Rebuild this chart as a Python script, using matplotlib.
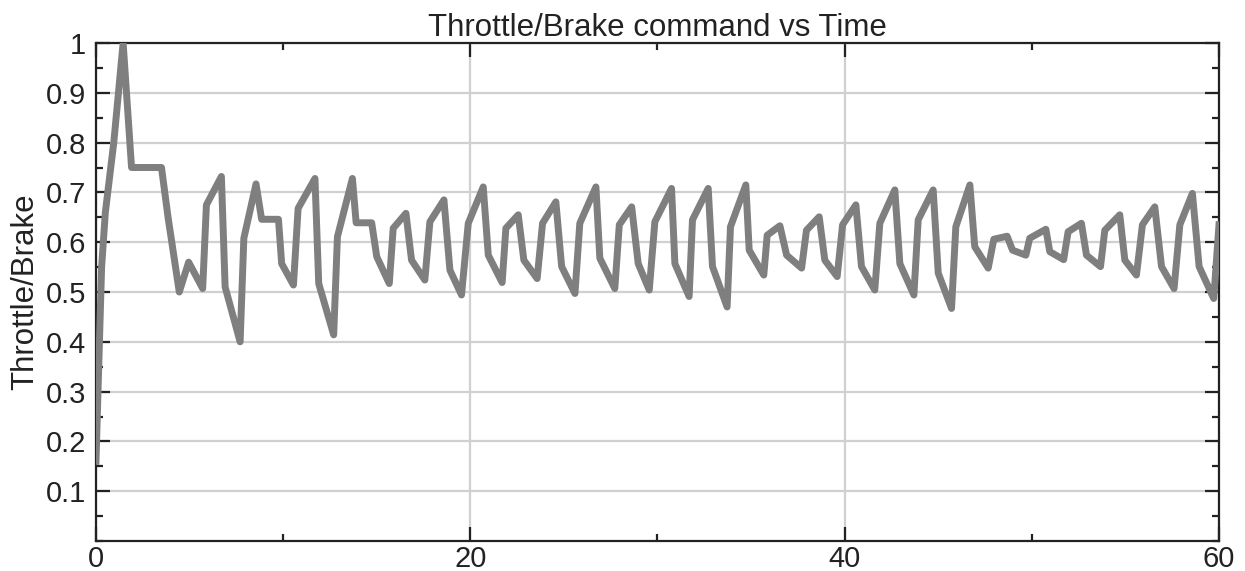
import matplotlib
matplotlib.use("Agg")
import matplotlib.pyplot as plt
from matplotlib.ticker import MultipleLocator

time = [0.0, 0.3, 0.5, 0.95, 1.45, 1.9, 3.5, 3.85, 4.45, 4.95, 5.7, 5.9, 6.7, 6.9,
        7.7, 7.9, 8.55, 8.85, 9.75, 9.92, 10.55, 10.8, 11.7, 11.9, 12.7, 12.9,
        13.7, 13.9, 14.73, 15.0, 15.67, 15.88, 16.56, 16.86, 17.57, 17.84, 18.59,
        18.91, 19.53, 19.89, 20.69, 20.96, 21.7, 21.9, 22.56, 22.86, 23.57, 23.86,
        24.57, 24.88, 25.59, 25.85, 26.71, 26.92, 27.72, 27.96, 28.62, 28.97,
        29.56, 29.86, 30.75, 30.93, 31.69, 31.87, 32.71, 32.94, 33.72, 33.9,
        34.72, 34.9, 35.68, 35.86, 36.54, 36.9, 37.7, 37.96, 38.64, 38.94, 39.6,
        39.89, 40.6, 40.9, 41.61, 41.88, 42.68, 42.95, 43.7, 43.93, 44.73, 45.0,
        45.71, 45.94, 46.69, 46.95, 47.67, 47.97, 48.68, 48.97, 49.68, 49.89,
        50.75, 50.96, 51.7, 51.94, 52.65, 52.92, 53.67, 53.9, 54.7, 54.97, 55.59,
        55.91, 56.57, 56.93, 57.6, 57.91, 58.58, 58.94, 59.72, 60.0]
command = [0.16, 0.55, 0.66, 0.80, 1.0, 0.75, 0.75, 0.65, 0.50, 0.56, 0.507, 0.675,
           0.732, 0.51, 0.40, 0.608, 0.717, 0.646, 0.646, 0.557, 0.514, 0.668,
           0.728, 0.517, 0.414, 0.611, 0.728, 0.639, 0.639, 0.571, 0.517, 0.628,
           0.658, 0.564, 0.524, 0.641, 0.685, 0.544, 0.494, 0.638, 0.711, 0.574,
           0.519, 0.628, 0.655, 0.564, 0.527, 0.638, 0.681, 0.551, 0.497, 0.638,
           0.711, 0.568, 0.507, 0.635, 0.671, 0.557, 0.504, 0.641, 0.708, 0.557,
           0.491, 0.645, 0.708, 0.551, 0.470, 0.631, 0.715, 0.584, 0.534, 0.614,
           0.633, 0.574, 0.548, 0.624, 0.651, 0.564, 0.531, 0.635, 0.675, 0.551,
           0.504, 0.638, 0.705, 0.557, 0.494, 0.645, 0.705, 0.538, 0.467, 0.631,
           0.715, 0.591, 0.548, 0.606, 0.612, 0.584, 0.574, 0.608, 0.626, 0.581,
           0.565, 0.621, 0.638, 0.574, 0.551, 0.624, 0.655, 0.564, 0.534, 0.635,
           0.671, 0.551, 0.507, 0.635, 0.698, 0.551, 0.487, 0.635]

x_ticks = [0, 20, 40, 60]
x_tick_labels = ["0", "20", "40", "60"]
y_ticks = [0.1, 0.2, 0.3, 0.4, 0.5, 0.6, 0.7, 0.8, 0.9, 1.0]
y_tick_labels = ["0.1", "0.2", "0.3", "0.4", "0.5", "0.6", "0.7", "0.8", "0.9", "1"]

plt.rcParams['font.family'] = ['Liberation Sans', 'DejaVu Sans']

fig = plt.figure(figsize=(12.45, 5.71), dpi=100)
ax = fig.add_axes([0.0771, 0.0525, 0.902, 0.8722])

ax.plot(time, command, color='#7f7f7f', lw=5.0, solid_joinstyle='round', zorder=3)

ax.set_xlim(0, 60)
ax.set_ylim(0, 1)
ax.set_xticks(x_ticks)
ax.set_xticklabels(x_tick_labels)
ax.set_yticks(y_ticks)
ax.set_yticklabels(y_tick_labels)
ax.xaxis.set_minor_locator(MultipleLocator(10))
ax.yaxis.set_minor_locator(MultipleLocator(0.05))

ax.grid(True, which='major', color='#d0d0d0', lw=1.6, zorder=0)
ax.tick_params(which='both', direction='in', top=True, right=True, width=1.6,
               colors='#222222', labelcolor='#222222', labelsize=21)
ax.tick_params(which='major', length=10)
ax.tick_params(which='minor', length=5)
ax.tick_params(axis='y', which='major', pad=7)
ax.tick_params(axis='x', which='major', pad=3)
for s in ax.spines.values():
    s.set_linewidth(1.6)
    s.set_color('#222222')

ax.set_title("Throttle/Brake command vs Time", fontsize=22.5, color='#222222', pad=4)
ax.set_ylabel("Throttle/Brake", fontsize=22.5, color='#222222', labelpad=4)

fig.savefig("out.png", dpi=100, facecolor='white')
